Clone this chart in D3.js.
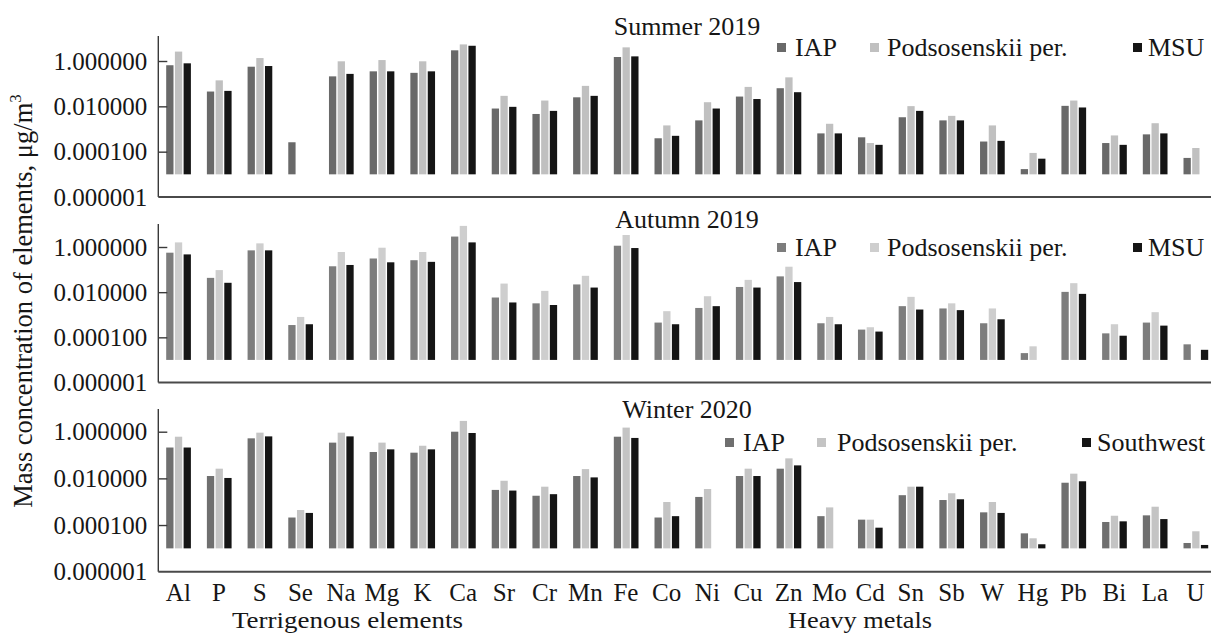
<!DOCTYPE html>
<html><head><meta charset="utf-8">
<script src="https://cdn.jsdelivr.net/npm/d3@7"></script>
<style>
body{margin:0;background:#fff}
svg{display:block}
svg text{font-family:"Liberation Serif","Times New Roman",serif !important;fill:#161616}
</style>
</head><body>
<svg id="c" width="1211" height="633"></svg>
<script>
const categories = ["Al","P","S","Se","Na","Mg","K","Ca","Sr","Cr","Mn","Fe","Co","Ni","Cu","Zn","Mo","Cd","Sn","Sb","W","Hg","Pb","Bi","La","U"];
const panelTitles = ["Summer 2019","Autumn 2019","Winter 2020"];
const legendNames1 = ["IAP","Podsosenskii per.","MSU"];
const legendNames2 = ["IAP","Podsosenskii per.","MSU"];
const legendNames3 = ["IAP","Podsosenskii per.","Southwest"];
const yTickValues = [1e-6, 1e-4, 1e-2, 1];
const groupLabels = ["Terrigenous elements","Heavy metals"];
const yTitle = "Mass concentration of elements, μg/m";
const yTitleSup = "3";

// Summer 2019
const summerIAP = [0.65,0.045,0.56,0.00026,0.21,0.35,0.30,2.96,0.008,0.0046,0.025,1.5,0.00039,0.0024,0.027,0.063,0.00064,0.00043,0.0033,0.0024,0.00028,1.7e-5,0.0105,0.00024,0.00058,5.3e-5];
const summerPod = [2.6,0.14,1.35,null,0.97,1.1,0.97,5.4,0.029,0.018,0.080,4.0,0.00144,0.0152,0.072,0.19,0.0017,0.00024,0.0102,0.0038,0.00144,8.8e-5,0.018,0.00052,0.0018,0.000145];
const summerMSU = [0.79,0.048,0.6,null,0.27,0.35,0.35,4.7,0.0095,0.0063,0.029,1.6,0.0005,0.008,0.021,0.042,0.00064,0.0002,0.0063,0.0024,0.0003,4.9e-5,0.0089,0.0002,0.00064,null];
// Autumn 2019
const autumnIAP = [0.56,0.043,0.71,0.00035,0.14,0.31,0.26,2.9,0.0058,0.0032,0.022,1.14,0.00045,0.002,0.017,0.05,0.00042,0.00022,0.0024,0.0019,0.00042,2.0e-5,0.0103,0.00015,0.00045,4.9e-5];
const autumnPod = [1.6,0.095,1.45,0.0008,0.6,0.93,0.6,8.6,0.024,0.0114,0.053,3.4,0.00144,0.0066,0.035,0.134,0.0008,0.00028,0.0062,0.0032,0.0019,4.0e-5,0.025,0.00038,0.0013,null];
const autumnMSU = [0.47,0.026,0.71,0.00038,0.16,0.21,0.22,1.6,0.0035,0.0027,0.016,0.9,0.00038,0.0024,0.016,0.028,0.00038,0.00018,0.0017,0.0016,0.00063,null,0.0084,0.000118,0.00033,2.8e-5];
// Winter 2020
const winterIAP = [0.21,0.0126,0.52,0.00021,0.34,0.135,0.126,1.0,0.0032,0.0018,0.0126,0.61,0.00021,0.0016,0.0126,0.026,0.00024,0.00017,0.0019,0.00118,0.00035,4.4e-5,0.0065,0.000135,0.00026,1.7e-5];
const winterPod = [0.61,0.026,0.91,0.00044,0.91,0.34,0.25,2.9,0.0079,0.0044,0.025,1.5,0.00097,0.0035,0.026,0.072,0.00057,0.00017,0.0044,0.0023,0.00097,2.7e-5,0.0159,0.00025,0.00061,5.4e-5];
const winterSW  = [0.21,0.0104,0.63,0.00033,0.63,0.175,0.175,0.88,0.003,0.0021,0.011,0.54,0.00024,null,0.0126,0.036,null,7.7e-5,0.0044,0.00127,0.00033,1.5e-5,0.0075,0.000144,0.00018,1.4e-5];

const barBase = 1e-5;

const panels = [
  {title: panelTitles[0], series:[summerIAP, summerPod, summerMSU], names: legendNames1,
   bottom:197, one:61, top:36, titleY:35, legY:56, legSq:[777,870,1133], legTx:[795,887,1148],
   colors:["#696969","#c0c0c0","#151515"]},
  {title: panelTitles[1], series:[autumnIAP, autumnPod, autumnMSU], names: legendNames2,
   bottom:382.5, one:247, top:224, titleY:228, legY:256, legSq:[777,870,1133], legTx:[795,887,1148],
   colors:["#7d7d7d","#cecece","#151515"]},
  {title: panelTitles[2], series:[winterIAP, winterPod, winterSW], names: legendNames3,
   bottom:571.7, one:431.7, top:409, titleY:418, legY:451, legSq:[725,817,1082], legTx:[743,837,1097],
   colors:["#6f6f6f","#c4c4c4","#151515"]}
];

const svg = d3.select("#c");
const axisX = 158.3;
const x = d3.scaleBand().domain(categories).range([158, 1216]).padding(0);
const barW = 7.3, barStep = 8.7;
const fmt = d3.format(".6f");

panels.forEach((p, i) => {
  const y = d3.scaleLog().domain([1e-6, 1]).range([p.bottom, p.one]);
  const g = svg.append("g");

  p.series.forEach((vals, s) => {
    g.append("g").selectAll("rect")
      .data(categories.map((c, k) => ({c, v: vals[k]})).filter(d => d.v != null))
      .join("rect")
      .attr("x", d => x(d.c) + x.bandwidth() / 2 + (s - 1) * barStep + 0.2 - barW / 2)
      .attr("y", d => y(d.v))
      .attr("width", barW)
      .attr("height", d => y(barBase) - y(d.v))
      .attr("fill", p.colors[s]);
  });

  const ya = g.append("g").attr("transform", `translate(${axisX},0)`)
    .call(d3.axisLeft(y).tickValues(yTickValues).tickFormat(fmt).tickSizeInner(-9).tickSizeOuter(0).tickPadding(11));
  ya.select(".domain").remove();
  ya.selectAll(".tick line").attr("stroke", "#3a3a3a").attr("stroke-width", 1.4);
  ya.selectAll(".tick text").attr("font-size", 25).attr("fill", "#161616");
  ya.selectAll(".tick").filter(d => d === 1e-6).select("line").remove();
  g.append("line").attr("x1", axisX).attr("x2", axisX).attr("y1", p.top).attr("y2", p.bottom)
    .attr("stroke", "#3a3a3a").attr("stroke-width", 1.4);

  const xa = g.append("g").attr("transform", `translate(0,${p.bottom})`)
    .call(d3.axisBottom(x).tickSize(0).tickPadding(11.5));
  xa.select(".domain").attr("stroke", "#4a4a4a").attr("stroke-width", 2)
    .attr("d", `M${axisX},0H1216`);
  if (i < 2) xa.selectAll(".tick").remove();
  else xa.selectAll(".tick text").attr("font-size", 25).attr("fill", "#161616");

  g.append("text").attr("x", 687).attr("y", p.titleY).attr("text-anchor", "middle")
    .attr("font-size", 26).text(p.title);

  p.names.forEach((n, s) => {
    g.append("rect").attr("x", p.legSq[s]).attr("y", p.legY - 13).attr("width", 9).attr("height", 9)
      .attr("fill", p.colors[s]);
    g.append("text").attr("x", p.legTx[s]).attr("y", p.legY).attr("font-size", 26).text(n);
  });
});

svg.append("text").attr("x", 232).attr("y", 627.5).attr("font-size", 24)
  .attr("textLength", 231).attr("lengthAdjust", "spacingAndGlyphs").text(groupLabels[0]);
svg.append("text").attr("x", 788).attr("y", 627.5).attr("font-size", 24)
  .attr("textLength", 144).attr("lengthAdjust", "spacingAndGlyphs").text(groupLabels[1]);

const yt = svg.append("text").attr("transform", "translate(32,301) rotate(-90)")
  .attr("text-anchor", "middle").attr("font-size", 26.5);
yt.append("tspan").text(yTitle);
yt.append("tspan").attr("font-size", 17).attr("dy", -11).text(yTitleSup);
</script>
</body></html>
